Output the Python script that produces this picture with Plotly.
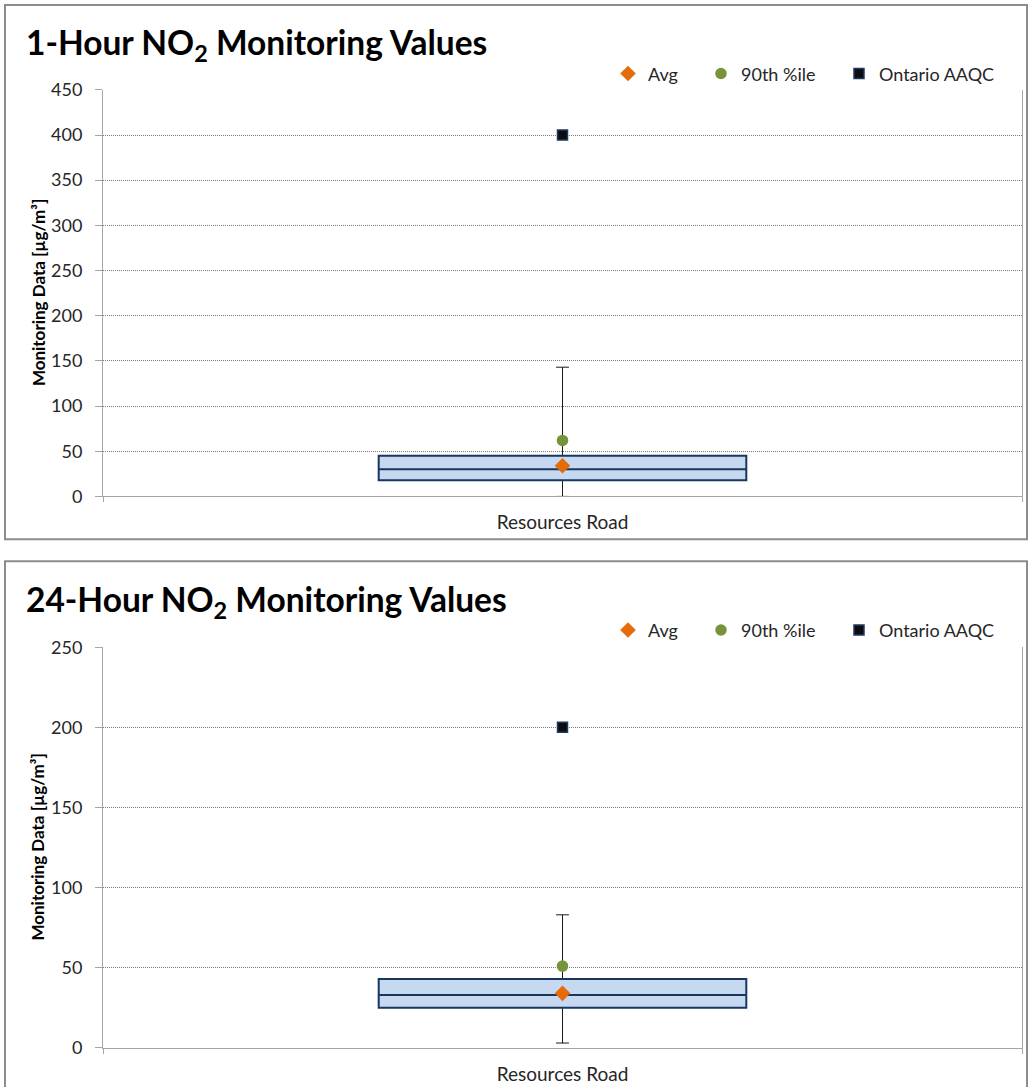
import plotly.graph_objects as go

# ---------------- data ----------------
categories = ["Resources Road"]

# 1-hour NO2
h1_min = [0]
h1_q1 = [18]
h1_median = [30]
h1_q3 = [45]
h1_max = [143]
h1_avg = [34]
h1_p90 = [62]
h1_aaqc = [400]

# 24-hour NO2
h24_min = [3]
h24_q1 = [25]
h24_median = [33]
h24_q3 = [43]
h24_max = [83]
h24_avg = [34]
h24_p90 = [51]
h24_aaqc = [200]

titles = ["1-Hour NO<sub>2</sub> Monitoring Values", "24-Hour NO<sub>2</sub> Monitoring Values"]
y_title = "Monitoring Data [µg/m³]"
y_ranges = [[0, 450], [0, 250]]
series_names = ["Avg", "90th %ile", "Ontario AAQC"]

W, H = 1033, 1087
FONT = "Lato"
BOX_FILL = "#C6D9F1"
BOX_LINE = "#17375E"
AVG_C = "#E46C0A"
P90_C = "#77933C"
AAQC_C = "#0D0D0D"
GRID_C = "#7A7A7A"
AXIS_C = "#A6A6A6"

# vertical screen correction observed in the capture (offset / scale)
V_OFF, V_SCALE = 11.08, 0.9808


def px_x(p):
    return p / W


def px_y(o):
    p = (o - V_OFF) / V_SCALE
    return 1 - p / H


fig = go.Figure()

datasets = [
    (h1_min, h1_q1, h1_median, h1_q3, h1_max, h1_avg, h1_p90, h1_aaqc),
    (h24_min, h24_q1, h24_median, h24_q3, h24_max, h24_avg, h24_p90, h24_aaqc),
]

marker_styles = [
    dict(symbol="diamond", size=12, color=AVG_C),
    dict(symbol="circle", size=11.5, color=P90_C),
    dict(symbol="square", size=10, color=AAQC_C, line=dict(color="#1F3864", width=1.5)),
]


def legend_key(i, j):
    n = i * 3 + j + 1
    return "legend" if n == 1 else "legend%d" % n


for i, (mn, q1, med, q3, mx, avg, p90, aaqc) in enumerate(datasets):
    xa = "x" if i == 0 else "x2"
    ya = "y" if i == 0 else "y2"
    # whiskers
    fig.add_trace(go.Box(
        x=categories, q1=med, median=med, q3=med, lowerfence=mn, upperfence=mx,
        width=0.4, whiskerwidth=0.035, line=dict(color="#1a1a1a", width=1),
        fillcolor="rgba(0,0,0,0)", boxpoints=False, showlegend=False,
        hoverinfo="skip", xaxis=xa, yaxis=ya))
    # box
    fig.add_trace(go.Box(
        x=categories, q1=q1, median=med, q3=q3, lowerfence=q1, upperfence=q3,
        width=0.4, whiskerwidth=0, line=dict(color=BOX_LINE, width=2),
        fillcolor=BOX_FILL, boxpoints=False, showlegend=False,
        hoverinfo="skip", xaxis=xa, yaxis=ya))
    for j, vals in enumerate([avg, p90, aaqc]):
        fig.add_trace(go.Scatter(
            x=categories, y=vals, mode="markers", name=series_names[j],
            marker=marker_styles[j], xaxis=xa, yaxis=ya,
            legend=legend_key(i, j)))

plot_left, plot_right = 103, 1022
plot_tops = [89, 647]
plot_bottoms = [496, 1048]

yaxis_common = dict(
    dtick=50, showgrid=True, gridcolor=GRID_C, griddash="1px,1px", gridwidth=1,
    showline=True, linecolor=AXIS_C, linewidth=1, mirror=True,
    ticks="outside", ticklen=7, tickcolor=AXIS_C, ticklabelstandoff=9,
    tickfont=dict(family=FONT, size=18, color="#262626"), zeroline=False,
    fixedrange=True,
)
xaxis_common = dict(
    type="category", range=[-0.5, 0.5], showgrid=False, showline=True,
    linecolor=AXIS_C, linewidth=1, ticks="outside", tickson="boundaries",
    ticklen=5, tickcolor=AXIS_C, ticklabelstandoff=9,
    tickfont=dict(family=FONT, size=19, color="#262626"), zeroline=False,
    fixedrange=True,
)

layout = dict(
    width=W, height=H, margin=dict(l=0, r=0, t=0, b=0),
    paper_bgcolor="white", plot_bgcolor="white", boxmode="overlay",
    showlegend=True, font=dict(family=FONT),
)
for i in range(2):
    suf = "" if i == 0 else "2"
    layout["xaxis" + suf] = dict(
        xaxis_common, domain=[px_x(plot_left), px_x(plot_right)],
        anchor="y" + suf)
    layout["yaxis" + suf] = dict(
        yaxis_common, domain=[px_y(plot_bottoms[i]), px_y(plot_tops[i])],
        range=y_ranges[i], anchor="x" + suf)

legend_y = [73, 630]
legend_marker_x = [628, 721, 859]
for i in range(2):
    for j in range(3):
        layout[legend_key(i, j)] = dict(
            orientation="h", x=px_x(legend_marker_x[j] - 20), y=px_y(legend_y[i]),
            xanchor="left", yanchor="middle", bgcolor="rgba(0,0,0,0)",
            font=dict(family=FONT, size=18, color="#262626"),
        )

fig.update_layout(**layout)

# titles and y-axis titles
title_y = [44, 601]
for i in range(2):
    fig.add_annotation(
        text="<b>" + titles[i] + "</b>", xref="paper", yref="paper",
        x=px_x(24), y=px_y(title_y[i]), xanchor="left", yanchor="middle",
        showarrow=False, font=dict(family=FONT, size=33.5, color="black"))
    fig.add_annotation(
        text="<b>" + y_title + "</b>", xref="paper", yref="paper",
        x=px_x(38), y=px_y((plot_tops[i] + plot_bottoms[i]) / 2),
        xanchor="center", yanchor="middle", textangle=-90, showarrow=False,
        font=dict(family=FONT, size=17, color="black"))

# chart frames
frames = [(5, 4, 1027, 539), (5, 561, 1027, 1100)]
for (x0, y0, x1, y1) in frames:
    fig.add_shape(type="rect", xref="paper", yref="paper",
                  x0=px_x(x0), x1=px_x(x1), y0=px_y(y1), y1=px_y(y0),
                  line=dict(color="#8C8C8C", width=2), fillcolor="rgba(0,0,0,0)",
                  layer="below")

fig.write_html(
    "out.html",
    config={"displayModeBar": False},
    post_script=(
        "document.body.style.margin='0';"
        "document.body.style.overflow='hidden';"
        "var d=document.getElementById('{plot_id}');"
        "d.style.position='fixed';d.style.top='0px';d.style.left='0px';"
    ),
)
